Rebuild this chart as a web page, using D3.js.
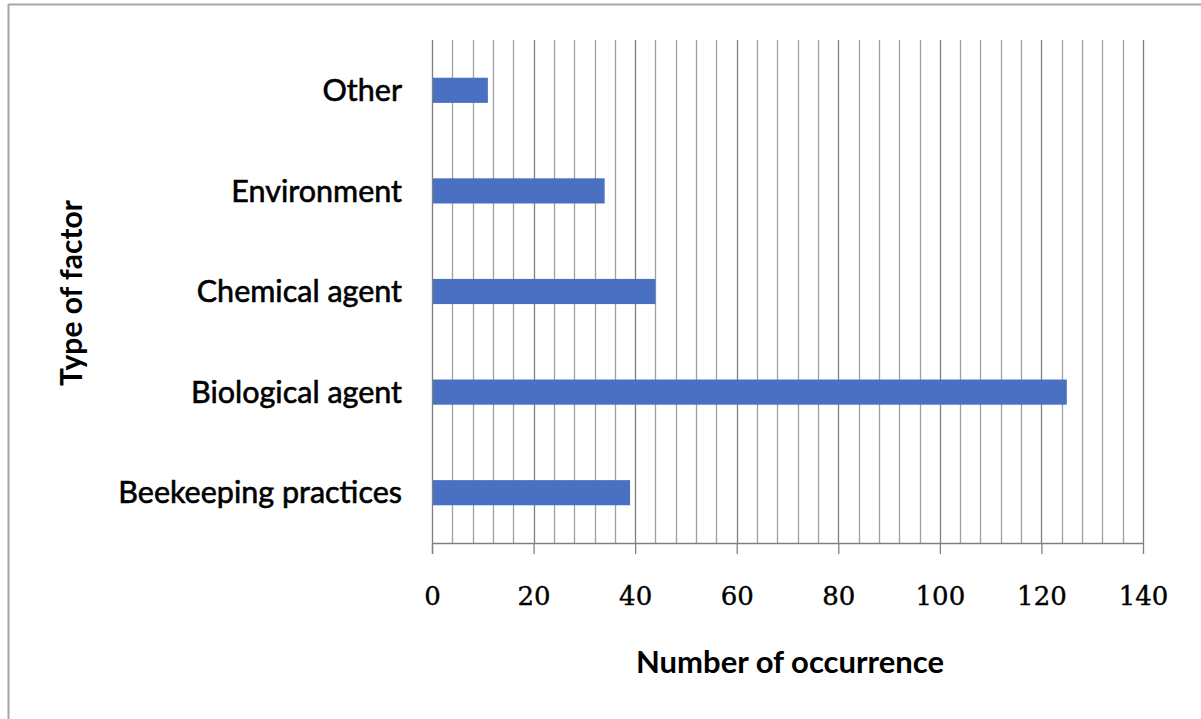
<!DOCTYPE html>
<html>
<head>
<meta charset="utf-8">
<script src="https://cdn.jsdelivr.net/npm/d3@7"></script>
<style>
  html, body { margin: 0; padding: 0; background: #fff; }
  svg { display: block; }
</style>
</head>
<body>
<svg id="chart" width="1201" height="719"></svg>
<script>
// Factor categories, listed top to bottom
const categories = ["Other", "Environment", "Chemical agent", "Biological agent", "Beekeeping practices"];
// Number of occurrences per category
const occurrences = [11, 34, 44, 125, 39];
// Axis settings
const xMax = 140;
const majorTicks = [0, 20, 40, 60, 80, 100, 120, 140];
const minorStep = 4;
const xTitle = "Number of occurrence";
const yTitle = "Type of factor";

const svg = d3.select("#chart");
const W = 1201, H = 719;
const plot = { left: 432, right: 1143, top: 40, bottom: 543 };

// Outer frame (top and left edges)
svg.append("line").attr("x1", 8.5).attr("x2", W).attr("y1", 4.5).attr("y2", 4.5)
  .attr("stroke", "#a6a6a6").attr("stroke-width", 2);
svg.append("line").attr("x1", 8.5).attr("x2", 8.5).attr("y1", 4).attr("y2", H)
  .attr("stroke", "#a6a6a6").attr("stroke-width", 2);

const x = d3.scaleLinear().domain([0, xMax]).range([plot.left, plot.right]);
const y = d3.scaleBand().domain(categories).range([plot.top, plot.bottom]).paddingInner(0.75).paddingOuter(0.375);

// Vertical gridlines every 4 units
const minorTicks = d3.range(minorStep, xMax + 0.001, minorStep);
svg.append("g").selectAll("line").data(minorTicks).join("line")
  .attr("x1", d => Math.round(x(d)) + 0.5).attr("x2", d => Math.round(x(d)) + 0.5)
  .attr("y1", plot.top).attr("y2", plot.bottom)
  .attr("stroke", d => d % 20 === 0 ? "#7f7f7f" : "#a0a0a0")
  .attr("stroke-width", 1.3);

// Bars
svg.append("g").selectAll("rect").data(categories).join("rect")
  .attr("x", x(0))
  .attr("y", d => y(d))
  .attr("width", (d, i) => x(occurrences[i]) - x(0))
  .attr("height", y.bandwidth())
  .attr("fill", "#4a70c2");

// Value axis along the bottom
const xAxis = d3.axisBottom(x).tickValues(majorTicks).tickSize(11).tickPadding(33).tickFormat(d3.format("d"));
const gx = svg.append("g").attr("transform", `translate(0,${plot.bottom})`).call(xAxis);
gx.select(".domain").attr("stroke", "#808080").attr("stroke-width", 1.3).attr("d", `M${plot.left},0.5H${plot.right}`);
gx.selectAll(".tick line").attr("stroke", "#808080").attr("stroke-width", 1.3);
gx.selectAll(".tick text")
  .attr("font-family", "'DejaVu Serif', 'Liberation Serif', serif")
  .attr("font-size", 26).attr("fill", "#000")
  .attr("stroke", "#000").attr("stroke-width", 0.4);

// Category axis on the left
svg.append("line").attr("x1", x(0) + 0.5).attr("x2", x(0) + 0.5)
  .attr("y1", plot.top).attr("y2", plot.bottom + 11)
  .attr("stroke", "#7f7f7f").attr("stroke-width", 1.3);

svg.append("g").selectAll("text").data(categories).join("text")
  .attr("x", 402)
  .attr("y", d => y(d) + y.bandwidth() / 2)
  .attr("dy", "0.35em")
  .attr("text-anchor", "end")
  .attr("font-family", "Lato, 'Open Sans', sans-serif")
  .attr("font-size", 30.5)
  .attr("fill", "#000")
  .attr("stroke", "#000").attr("stroke-width", 0.6)
  .text(d => d);

// Axis titles
svg.append("text")
  .attr("x", 790).attr("y", 673)
  .attr("text-anchor", "middle")
  .attr("font-family", "Lato, 'Open Sans', sans-serif")
  .attr("font-weight", "bold").attr("font-size", 31)
  .attr("fill", "#000")
  .text(xTitle);

svg.append("text")
  .attr("transform", "translate(82,293) rotate(-90)")
  .attr("text-anchor", "middle")
  .attr("font-family", "Lato, 'Open Sans', sans-serif")
  .attr("font-weight", "bold").attr("font-size", 30)
  .attr("fill", "#000")
  .text(yTitle);
</script>
</body>
</html>
